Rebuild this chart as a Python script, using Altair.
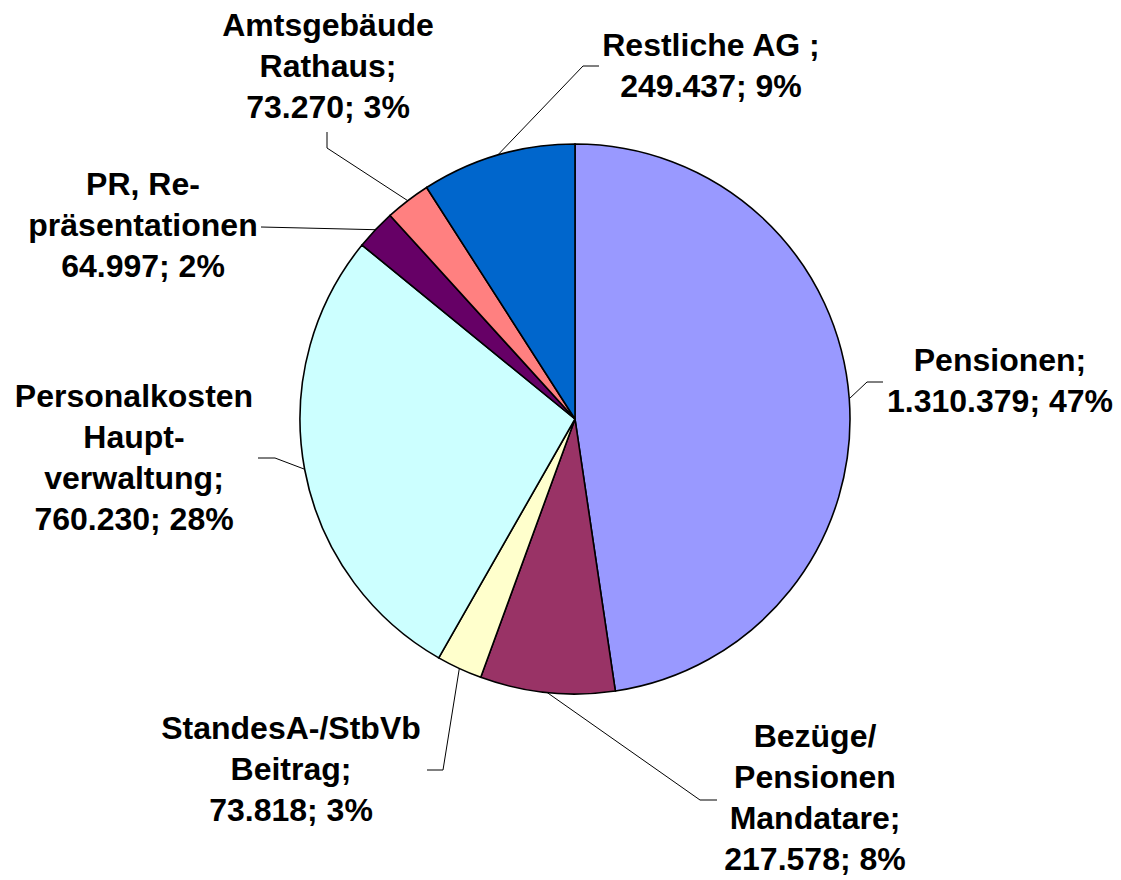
import math
import altair as alt
import pandas as pd

# ---- data ----
categories = ["Pensionen", "Bezüge/Pensionen Mandatare", "StandesA-/StbVb Beitrag",
              "Personalkosten Hauptverwaltung", "PR, Repräsentationen",
              "Amtsgebäude Rathaus", "Restliche AG"]
label_heads = ["Pensionen;", "Bezüge/\nPensionen\nMandatare;", "StandesA-/StbVb\nBeitrag;",
               "Personalkosten\nHaupt-\nverwaltung;", "PR, Re-\npräsentationen",
               "Amtsgebäude\nRathaus;", "Restliche AG ;"]
values = [1310379, 217578, 73818, 760230, 64997, 73270, 249437]
value_labels = ["1.310.379", "217.578", "73.818", "760.230", "64.997", "73.270", "249.437"]
percent_labels = ["47%", "8%", "3%", "28%", "2%", "3%", "9%"]
colors = ["#9999FF", "#993366", "#FFFFCC", "#CCFFFF", "#660066", "#FF8080", "#0066CC"]

# ---- layout (pixels relative to pie centre, y downwards) ----
W, H = 1105, 872
CX, CY = 567, 411
R = 275
LH = 41
label_pos = [(425, -38), (240, 379), (-284, 351), (-441, 39), (-432, -193), (-247, -352), (136, -353)]
leader_elbow = [(292, -37), (125, 381), (-132, 351), (-300, 39), (-314, -192), (-248, -271), (8, -353)]
leader_end = [(308, -37), (142, 381), (-148, 351), (-317, 39), (-314, -192), (-248, -287), (24, -353)]

pie_df = pd.DataFrame({"cat": categories, "value": values, "idx": list(range(len(values)))})

total = sum(values)
rows = []
cum = 0
for i, v in enumerate(values):
    mid = (cum + v / 2) / total * 2 * math.pi
    cum += v
    ex, ey = R * math.sin(mid), -R * math.cos(mid)
    pts = [(ex, ey), leader_elbow[i], leader_end[i]]
    for j, (px, py) in enumerate(pts):
        rows.append({"cat": categories[i], "p": j, "x": px, "y": py})
line_df = pd.DataFrame(rows)

labels = [f"{h}\n{v}; {p}" for h, v, p in zip(label_heads, value_labels, percent_labels)]
text_df = pd.DataFrame({
    "cat": categories,
    "label": labels,
    "x": [p[0] for p in label_pos],
    # first-line position so the whole block is centred on label_pos
    "y": [p[1] - (lab.count("\n")) * LH / 2 for p, lab in zip(label_pos, labels)],
})

xs = alt.Scale(domain=[-CX, W - CX], nice=False, zero=False)
ys = alt.Scale(domain=[-CY, H - CY], nice=False, zero=False, reverse=True)

pie = alt.Chart(pie_df).mark_arc(outerRadius=R, stroke="black", strokeWidth=1.6).encode(
    theta=alt.Theta("value:Q", stack=True),
    color=alt.Color("cat:N", scale=alt.Scale(domain=categories, range=colors), legend=None),
    order=alt.Order("idx:Q", sort="ascending"),
    x=alt.value(CX),
    y=alt.value(CY),
)

lines = alt.Chart(line_df).mark_line(color="black", strokeWidth=1).encode(
    x=alt.X("x:Q", scale=xs, axis=None),
    y=alt.Y("y:Q", scale=ys, axis=None),
    detail="cat:N",
    order="p:Q",
)

texts = alt.Chart(text_df).mark_text(
    font="Liberation Sans", fontWeight="bold", fontSize=32, lineHeight=LH,
    align="center", baseline="middle", lineBreak="\n", color="black",
).encode(
    x=alt.X("x:Q", scale=xs, axis=None),
    y=alt.Y("y:Q", scale=ys, axis=None),
    text="label:N",
)

chart = alt.layer(pie, lines, texts).properties(
    width=W, height=H, padding=0, autosize=alt.AutoSizeParams(type="none"),
).configure_view(stroke=None)

chart.save("out.html", embed_options={"renderer": "svg", "actions": False})
